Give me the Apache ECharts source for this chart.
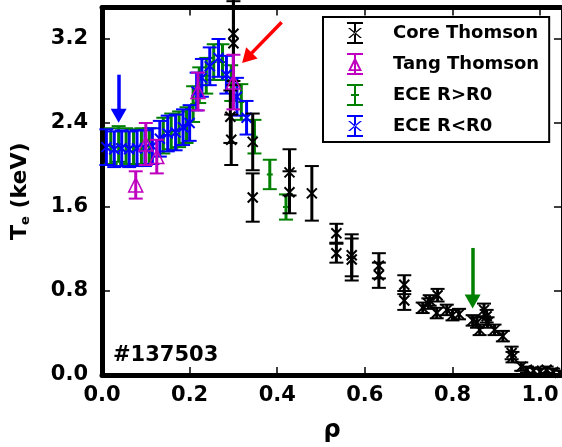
<!DOCTYPE html>
<html><head><meta charset="utf-8">
<script src="https://cdn.jsdelivr.net/npm/echarts@6/dist/echarts.min.js"></script>
<style>html,body{margin:0;padding:0;background:#fff}#c{width:562px;height:447px}</style>
</head><body><div id="c"></div>
<script>
// [rho, Te (keV), error]
var coreThomson = [
 [0.300,3.25,0.45],[0.300,3.16,0.40],[0.293,2.46,0.25],[0.295,2.24,0.24],
 [0.344,2.22,0.27],[0.344,1.69,0.23],[0.428,1.93,0.22],[0.428,1.74,0.20],
 [0.479,1.73,0.26],[0.535,1.35,0.09],[0.535,1.16,0.09],[0.570,1.14,0.20],
 [0.570,1.10,0.20],[0.632,1.04,0.12],[0.632,0.95,0.12],[0.690,0.86,0.09],
 [0.690,0.71,0.09],[0.732,0.64,0.05],[0.745,0.68,0.05],[0.748,0.71,0.05],
 [0.766,0.76,0.06],[0.764,0.59,0.05],[0.787,0.62,0.05],[0.800,0.57,0.05],
 [0.815,0.58,0.05],[0.846,0.52,0.05],[0.856,0.50,0.05],[0.862,0.43,0.05],
 [0.872,0.62,0.06],[0.878,0.56,0.06],[0.880,0.50,0.05],[0.896,0.43,0.05],
 [0.915,0.37,0.05],[0.935,0.21,0.06],[0.937,0.17,0.05],[0.957,0.08,0.04],
 [0.970,0.05,0.03],[0.985,0.04,0.03],[1.000,0.03,0.03],[1.015,0.05,0.03],
 [1.030,0.03,0.03],[1.045,0.02,0.02]
];
var tangThomson = [
 [0.077,1.81,0.13],[0.100,2.20,0.20],[0.125,2.08,0.16],[0.219,2.70,0.18],[0.300,2.79,0.26]
];
var eceOut = [ // ECE R>R0
 [0.020,2.18,0.17],[0.038,2.20,0.17],[0.055,2.18,0.17],[0.072,2.17,0.17],
 [0.090,2.18,0.17],[0.108,2.18,0.17],[0.140,2.28,0.17],[0.158,2.32,0.17],
 [0.176,2.34,0.17],[0.193,2.38,0.17],[0.208,2.58,0.17],[0.222,2.76,0.17],
 [0.238,2.85,0.17],[0.255,2.98,0.17],[0.275,2.98,0.17],[0.295,2.78,0.17],
 [0.318,2.60,0.17],[0.348,2.27,0.16],[0.383,1.91,0.14],[0.420,1.60,0.12]
];
var eceIn = [ // ECE R<R0
 [0.010,2.17,0.17],[0.028,2.15,0.17],[0.045,2.16,0.17],[0.062,2.15,0.17],
 [0.080,2.16,0.17],[0.098,2.16,0.17],[0.115,2.18,0.17],[0.132,2.25,0.17],
 [0.150,2.30,0.17],[0.168,2.31,0.17],[0.185,2.36,0.17],[0.200,2.40,0.17],
 [0.216,2.70,0.18],[0.228,2.83,0.18],[0.246,2.94,0.18],[0.266,3.02,0.18],
 [0.284,2.86,0.18],[0.308,2.65,0.18],[0.330,2.45,0.16]
];
var seriesNames = ['Core Thomson','Tang Thomson','ECE R>R0','ECE R<R0'];
var seriesColors = ['#000000','#bf00bf','#008000','#0000ff'];
// arrows: [start, end] in data coords
var arrowBlue = [[0.038,2.86],[0.038,2.47]];
var arrowRed = [[0.410,3.36],[0.331,3.02]];
var arrowGreen = [[0.846,1.21],[0.846,0.70]];
var shotLabel = '#137503';

var FONT = 'DejaVu Sans';
function render(kind, color){
  return function(params, api){
    var x=api.value(0), y=api.value(1), e=api.value(2);
    var p=api.coord([x,y]), lo=api.coord([x,y-e]), hi=api.coord([x,y+e]);
    var c=7, lw=3;
    var st={stroke:color,lineWidth:lw,fill:null};
    var ch=[
      {type:'line',shape:{x1:p[0],y1:lo[1],x2:p[0],y2:hi[1]},style:st},
      {type:'line',shape:{x1:p[0]-c,y1:lo[1],x2:p[0]+c,y2:lo[1]},style:{stroke:color,lineWidth:2}},
      {type:'line',shape:{x1:p[0]-c,y1:hi[1],x2:p[0]+c,y2:hi[1]},style:{stroke:color,lineWidth:2}}
    ];
    if(kind==='x'){
      var s=5;
      ch.push({type:'line',shape:{x1:p[0]-s,y1:p[1]-s,x2:p[0]+s,y2:p[1]+s},style:{stroke:color,lineWidth:2}});
      ch.push({type:'line',shape:{x1:p[0]-s,y1:p[1]+s,x2:p[0]+s,y2:p[1]-s},style:{stroke:color,lineWidth:2}});
    } else if(kind==='tri'){
      var r=7;
      ch.push({type:'polygon',shape:{points:[[p[0],p[1]-r],[p[0]+r,p[1]+r],[p[0]-r,p[1]+r]]},style:{stroke:color,lineWidth:1.5,fill:'none'}});
    } else {
      ch.push({type:'line',shape:{x1:p[0]-3,y1:p[1],x2:p[0]+3,y2:p[1]},style:{stroke:color,lineWidth:2}});
    }
    return {type:'group',children:ch};
  };
}
var iconBar='M0,0L16,0L16,2L9,2L9,20L16,20L16,22L0,22L0,20L7,20L7,2L0,2Z';
var iconX='M1,6L3,6L15,16L13,16ZM15,6L13,6L1,16L3,16Z';
var iconTri='M8,4L15,18L1,18ZM8,8.5L4,16.2L12,16.2Z';
var iconMid='M4,10L12,10L12,12L4,12Z';
var icons=['path://'+iconBar+iconX,'path://'+iconBar+iconTri,'path://'+iconBar+iconMid,'path://'+iconBar+iconX];

function mkSeries(name,data,kind,color,z){
  return {type:'custom',name:name,data:data,renderItem:render(kind,color),itemStyle:{color:color},
    clip:false,z:z,silent:true,encode:{x:0,y:1}};
}
var chart=echarts.init(document.getElementById('c'),null,{renderer:'canvas'});
var arrowItem=function(a,col){return [{coord:a[0],lineStyle:{color:col},itemStyle:{color:col}},{coord:a[1]}];};
chart.setOption({
  animation:false,
  backgroundColor:'#fff',
  grid:{left:102,right:0,top:7.5,bottom:72,containLabel:false,outerBoundsMode:'none'},
  title:{text:shotLabel,left:108,top:340,textStyle:{fontFamily:FONT,fontWeight:'bold',fontSize:21,color:'#000'}},
  legend:{
    data:seriesNames.map(function(n,i){return {name:n,icon:icons[i]};}),
    orient:'vertical',left:323,top:17,itemWidth:16,itemHeight:22,itemGap:9,
    padding:[5,10,5,24],borderColor:'#000',borderWidth:2,backgroundColor:'#fff',
    textStyle:{fontFamily:FONT,fontWeight:'bold',fontSize:18,color:'#000',padding:[0,0,0,25]},
    selectedMode:false,z:20
  },
  xAxis:[{type:'value',min:0,max:1.05,interval:0.2,
    name:'ρ',nameLocation:'middle',nameGap:44,
    nameTextStyle:{fontFamily:FONT,fontWeight:'bold',fontSize:24,color:'#000'},
    axisLine:{onZero:false,lineStyle:{color:'#000',width:5}},
    axisTick:{inside:true,length:8,lineStyle:{width:1.5,color:'#000'}},
    axisLabel:{showMaxLabel:false,margin:10,fontFamily:FONT,fontWeight:'bold',fontSize:21,color:'#000',
      formatter:function(v){return v.toFixed(1);}},
    splitLine:{show:false}},
    {type:'value',position:'top',min:0,max:1.05,interval:0.2,
    axisLine:{onZero:false,lineStyle:{color:'#000',width:5}},
    axisTick:{inside:true,length:8,lineStyle:{width:1.5,color:'#000'}},
    axisLabel:{show:false},splitLine:{show:false}}],
  yAxis:[{type:'value',min:0,max:3.5,interval:0.8,
    name:'T{s|e} (keV)',nameLocation:'middle',nameGap:70,
    nameTextStyle:{fontFamily:FONT,fontWeight:'bold',fontSize:22,color:'#000',
      rich:{s:{fontFamily:FONT,fontWeight:'bold',fontSize:13,color:'#000',padding:[10,0,0,0]}}},
    axisLine:{onZero:false,lineStyle:{color:'#000',width:5}},
    axisTick:{inside:true,length:8,lineStyle:{width:1.5,color:'#000'}},
    axisLabel:{showMaxLabel:false,margin:14,fontFamily:FONT,fontWeight:'bold',fontSize:21,color:'#000',
      formatter:function(v){return v.toFixed(1);}},
    splitLine:{show:false}},
    {type:'value',position:'right',min:0,max:3.5,interval:0.8,
    axisLine:{onZero:false,lineStyle:{color:'#000',width:3}},
    axisTick:{inside:true,length:8,lineStyle:{width:1.5,color:'#000'}},
    axisLabel:{show:false},splitLine:{show:false}}],
  series:[
    mkSeries(seriesNames[2],eceOut,'mid',seriesColors[2],2),
    mkSeries(seriesNames[3],eceIn,'x',seriesColors[3],3),
    mkSeries(seriesNames[0],coreThomson,'x',seriesColors[0],4),
    mkSeries(seriesNames[1],tangThomson,'tri',seriesColors[1],5),
    {type:'line',data:[],silent:true,z:6,
     markLine:{silent:true,animation:false,symbol:['none','triangle'],symbolSize:[16,14],
       label:{show:false},lineStyle:{width:3.5,type:'solid'},
       data:[arrowItem(arrowBlue,'#0000ff'),arrowItem(arrowRed,'#ff0000'),arrowItem(arrowGreen,'#008000')]}}
  ]
});
</script></body></html>
